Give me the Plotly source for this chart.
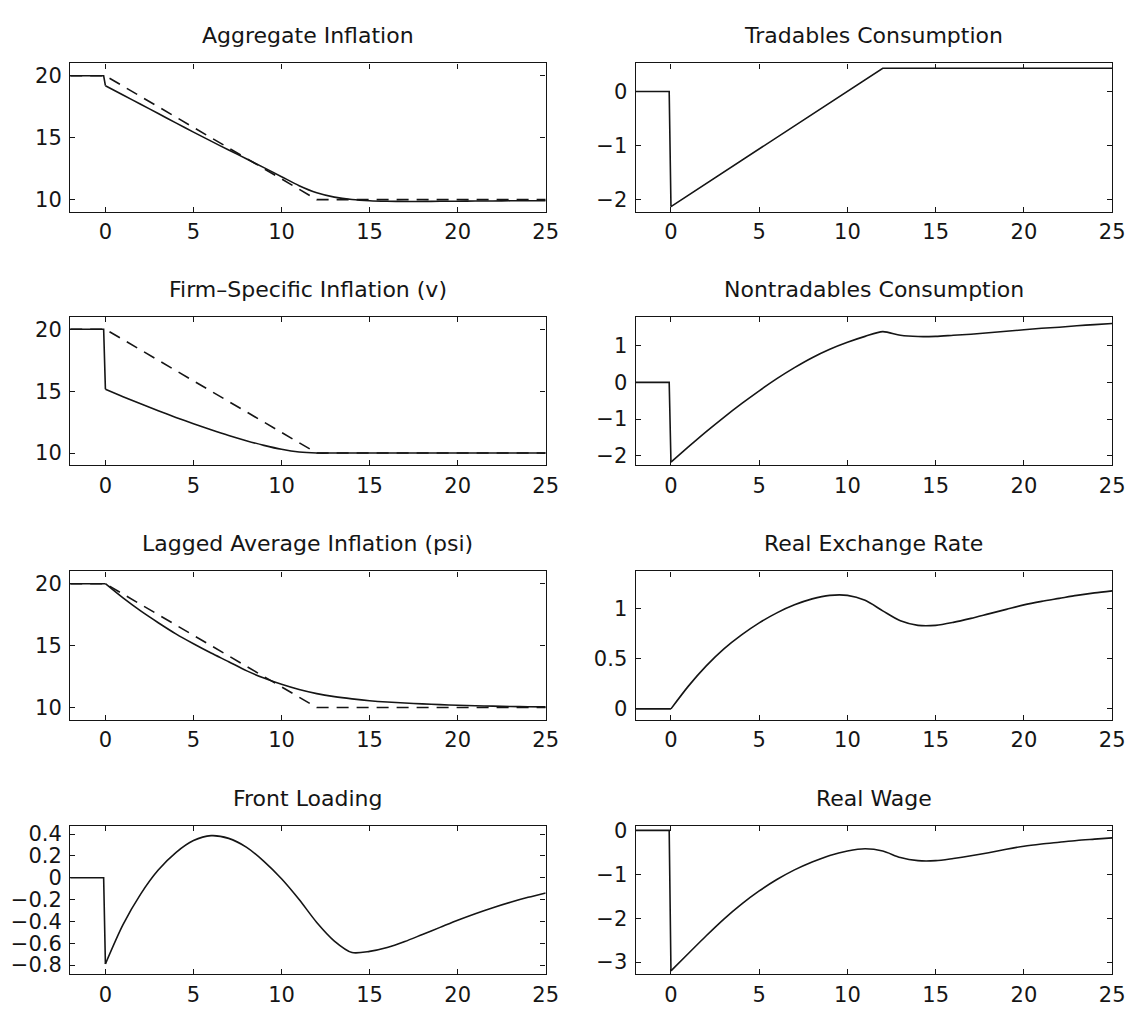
import plotly.graph_objects as go

# ---------------- data ----------------
t_pre = [-2, -0.1]
t_post = list(range(0, 26))
t_path = [-2, 0, 12, 25]            # target (dashed) path knots

# Aggregate inflation
agg_pre = [20, 20]
agg_solid = [19.2, 18.45, 17.7, 16.95, 16.2, 15.45, 14.72, 14.0, 13.3, 12.58, 11.85,
             11.12, 10.55, 10.2, 10.0, 9.9, 9.86, 9.85, 9.85, 9.86, 9.87, 9.88, 9.89,
             9.9, 9.9, 9.91]
agg_dash = [20, 20, 10, 10]

# Firm-specific inflation (v)
firm_pre = [20, 20]
firm_solid = [15.15, 14.55, 13.98, 13.42, 12.88, 12.37, 11.88, 11.42, 11.0, 10.62,
              10.3, 10.08, 10.0, 10.0, 10.0, 10.0, 10.0, 10.0, 10.0, 10.0, 10.0, 10.0,
              10.0, 10.0, 10.0, 10.0]
firm_dash = [20, 20, 10, 10]

# Lagged average inflation (psi)
psi_pre = [20, 20]
psi_solid = [20.0, 18.85, 17.8, 16.85, 15.95, 15.15, 14.4, 13.7, 12.98, 12.38, 11.87,
             11.45, 11.12, 10.88, 10.7, 10.55, 10.44, 10.36, 10.29, 10.23, 10.18, 10.14,
             10.11, 10.08, 10.06, 10.05]
psi_dash = [20, 20, 10, 10]

# Front loading
front_pre = [0, 0]
front_solid = [-0.79, -0.43, -0.15, 0.07, 0.23, 0.34, 0.385, 0.36, 0.28, 0.15, -0.01,
               -0.2, -0.41, -0.58, -0.685, -0.675, -0.64, -0.585, -0.52, -0.455, -0.39,
               -0.33, -0.275, -0.225, -0.18, -0.14]

# Tradables consumption
trad_t = [-2, -0.1, 0, 12, 25]
trad_v = [0, 0, -2.13, 0.43, 0.43]

# Nontradables consumption
nontrad_pre = [0, 0]
nontrad_solid = [-2.17, -1.75, -1.34, -0.95, -0.58, -0.23, 0.1, 0.4, 0.67, 0.9, 1.09,
                 1.25, 1.38, 1.28, 1.245, 1.25, 1.28, 1.31, 1.35, 1.39, 1.43, 1.47, 1.5,
                 1.54, 1.57, 1.6]

# Real exchange rate
rer_pre = [0, 0]
rer_solid = [0.0, 0.23, 0.43, 0.6, 0.74, 0.86, 0.96, 1.04, 1.1, 1.135, 1.135, 1.085,
             0.98, 0.88, 0.835, 0.835, 0.865, 0.905, 0.95, 0.995, 1.04, 1.075, 1.105,
             1.135, 1.16, 1.18]

# Real wage
wage_pre = [0, 0]
wage_solid = [-3.2, -2.8, -2.4, -2.02, -1.68, -1.38, -1.12, -0.9, -0.72, -0.57, -0.47,
              -0.42, -0.47, -0.62, -0.69, -0.69, -0.64, -0.58, -0.51, -0.43, -0.36,
              -0.31, -0.27, -0.23, -0.2, -0.17]

titles = ["Aggregate Inflation", "Tradables Consumption",
          "Firm\u2013Specific Inflation (v)", "Nontradables Consumption",
          "Lagged Average Inflation (psi)", "Real Exchange Rate",
          "Front Loading", "Real Wage"]

x_ticks = [0, 5, 10, 15, 20, 25]
y_ticks = {
    1: [10, 15, 20], 2: [-2, -1, 0],
    3: [10, 15, 20], 4: [-2, -1, 0, 1],
    5: [10, 15, 20], 6: [0, 0.5, 1],
    7: [-0.8, -0.6, -0.4, -0.2, 0, 0.2, 0.4], 8: [-3, -2, -1, 0],
}
y_ranges = {
    1: [9, 21], 2: [-2.23, 0.52],
    3: [9, 21], 4: [-2.26, 1.78],
    5: [9, 21], 6: [-0.11, 1.375],
    7: [-0.885, 0.475], 8: [-3.28, 0.104],
}

# ---------------- layout geometry ----------------
W, H = 1139, 1010
col_px = [(71, 552), (643, 1125)]
row_px = [(57, 207), (313, 463), (570, 720), (827, 977)]

FONT = "DejaVu Sans, Liberation Sans, Arial, sans-serif"
INK = "#151515"
LW = 1.6

fig = go.Figure()

def solid_with_jump(k, pre, post):
    fig.add_trace(go.Scatter(x=t_pre + [t_post[0]], y=pre + [post[0]], mode="lines",
                             line=dict(color=INK, width=LW), xaxis=f"x{k}", yaxis=f"y{k}",
                             showlegend=False, hoverinfo="skip"))
    fig.add_trace(go.Scatter(x=t_post, y=post, mode="lines",
                             line=dict(color=INK, width=LW, shape="spline", smoothing=0.8),
                             xaxis=f"x{k}", yaxis=f"y{k}", showlegend=False))

def dashed(k, vals):
    fig.add_trace(go.Scatter(x=t_path, y=vals, mode="lines",
                             line=dict(color=INK, width=LW, dash="12px,8px"),
                             xaxis=f"x{k}", yaxis=f"y{k}", showlegend=False))

# left column: 1,3,5,7 ; right column: 2,4,6,8
dashed(1, agg_dash); solid_with_jump(1, agg_pre, agg_solid)
fig.add_trace(go.Scatter(x=trad_t, y=trad_v, mode="lines", line=dict(color=INK, width=LW),
                         xaxis="x2", yaxis="y2", showlegend=False))
dashed(3, firm_dash); solid_with_jump(3, firm_pre, firm_solid)
solid_with_jump(4, nontrad_pre, nontrad_solid)
dashed(5, psi_dash); solid_with_jump(5, psi_pre, psi_solid)
solid_with_jump(6, rer_pre, rer_solid)
solid_with_jump(7, front_pre, front_solid)
solid_with_jump(8, wage_pre, wage_solid)

layout = dict(width=W, height=H, margin=dict(l=0, r=0, t=0, b=0),
              paper_bgcolor="white", plot_bgcolor="white",
              font=dict(family=FONT, size=21, color=INK), showlegend=False)
annotations = []
for k in range(1, 9):
    r = (k - 1) // 2
    c = (k - 1) % 2
    x0, x1 = col_px[c]
    y0, y1 = row_px[r]
    xd = [x0 / W, x1 / W]
    yd = [1 - y1 / H, 1 - y0 / H]
    ax = dict(domain=xd, range=[-2, 25], tickvals=x_ticks, ticks="inside", ticklen=5,
              tickwidth=1.2, tickcolor=INK, showline=True, linecolor=INK, linewidth=1.4,
              mirror="ticks", showgrid=False, zeroline=False, anchor=f"y{k}",
              tickfont=dict(family=FONT, size=21, color=INK), ticklabelstandoff=1,
              fixedrange=True)
    ay = dict(domain=yd, range=y_ranges[k], tickvals=y_ticks[k], ticks="inside", ticklen=5,
              tickwidth=1.2, tickcolor=INK, showline=True, linecolor=INK, linewidth=1.4,
              mirror="ticks", showgrid=False, zeroline=False, anchor=f"x{k}",
              tickfont=dict(family=FONT, size=21, color=INK), ticklabelstandoff=3,
              fixedrange=True)
    layout[f"xaxis{k}"] = ax
    layout[f"yaxis{k}"] = ay
    annotations.append(dict(text=titles[k - 1], x=(xd[0] + xd[1]) / 2, y=1 - (y0 - 28) / H,
                            xref="paper", yref="paper", xanchor="center", yanchor="middle",
                            showarrow=False, font=dict(family=FONT, size=22, color=INK)))
layout["annotations"] = annotations
fig.update_layout(**layout)
fig.write_html("out.html")
